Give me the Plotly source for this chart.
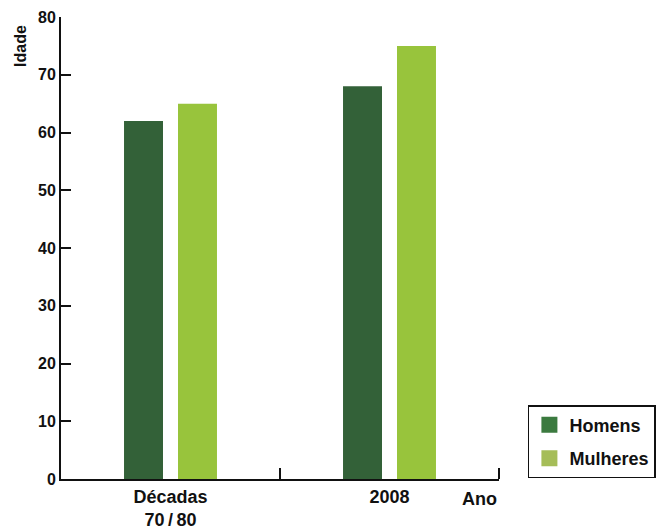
import plotly.graph_objects as go

# Data
categories = ["Décadas<br>70\u2009/\u200980", "2008"]
homens = [62, 68]
mulheres = [65, 75]
y_ticks = [0, 10, 20, 30, 40, 50, 60, 70, 80]

dark_green = "#336138"
light_green = "#98c43c"
legend_dark = "#3b7a3f"
legend_light = "#a5bd58"

font_family = "Liberation Sans, Arial, sans-serif"

fig = go.Figure()
fig.add_trace(go.Bar(x=categories, y=homens, name="Homens",
                     marker=dict(color=dark_green, line=dict(width=0)),
                     showlegend=False))
fig.add_trace(go.Bar(x=categories, y=mulheres, name="Mulheres",
                     marker=dict(color=light_green, line=dict(width=0)),
                     showlegend=False))

# Legend entries drawn as square markers
fig.add_trace(go.Scatter(x=[None], y=[None], mode="markers", name="Homens",
                         legendgroup="h",
                         marker=dict(symbol="square", size=16, color=legend_dark)))
fig.add_trace(go.Scatter(x=[None], y=[None], mode="markers", name="Mulheres",
                         legendgroup="m",
                         marker=dict(symbol="square", size=16, color=legend_light)))

fig.update_layout(
    width=659, height=530,
    margin=dict(l=61, r=160, t=17, b=51, autoexpand=False),
    paper_bgcolor="white", plot_bgcolor="white",
    barmode="group", bargap=0.507, bargroupgap=0.278,
    font=dict(family=font_family, color="#111111"),
    legend=dict(x=1.066, y=0.160, xanchor="left", yanchor="top",
                bordercolor="#111111", borderwidth=1.5,
                font=dict(size=18, weight="bold"),
                tracegroupgap=7, itemwidth=30),
    xaxis=dict(type="category", range=[-0.5, 1.5], automargin=False,
               showline=True, linecolor="#111111", linewidth=2,
               ticks="inside", tickson="boundaries", ticklen=11,
               tickcolor="#111111", tickwidth=2,
               tickfont=dict(size=18, weight="bold"),
               showgrid=False, zeroline=False),
    yaxis=dict(range=[0, 80], tickvals=y_ticks, automargin=False,
               showline=True, linecolor="#111111", linewidth=2,
               ticks="inside", ticklen=10, tickcolor="#111111", tickwidth=2,
               tickfont=dict(size=16, weight="bold"),
               showgrid=False, zeroline=False),
    annotations=[
        dict(text="<b>Ano</b>", xref="paper", yref="paper", x=1.0, y=0,
             xanchor="right", yanchor="top", yshift=-8, showarrow=False,
             font=dict(size=18)),
        dict(text="<b>Idade</b>", xref="paper", yref="paper", x=-0.094, y=0.937,
             xanchor="center", yanchor="middle", textangle=-90, showarrow=False,
             font=dict(size=16)),
    ],
    # closing tick at the right end of the category axis
    shapes=[dict(type="line", xref="paper", yref="paper", x0=1, x1=1,
                 y0=0, y1=11 / 462, line=dict(color="#111111", width=2))],
)

fig.write_html("out.html")
